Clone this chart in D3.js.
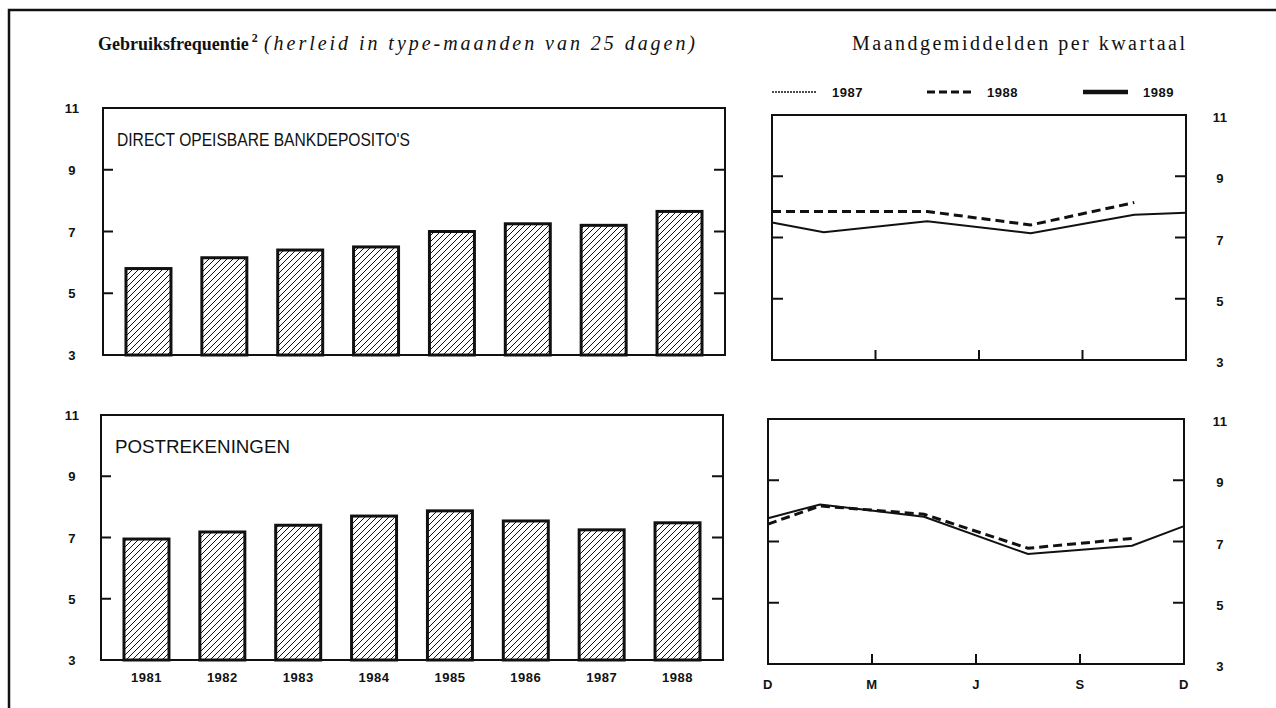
<!DOCTYPE html>
<html>
<head>
<meta charset="utf-8">
<script src="https://cdn.jsdelivr.net/npm/d3@7"></script>
<style>
  body { margin: 0; background: #fff; }
  svg { display: block; }
  .tick-lbl { font-family: "Liberation Sans", Arial, sans-serif; font-weight: bold; font-size: 13px; fill: #111; letter-spacing: 0.5px; }
  .panel-lbl { font-family: "Liberation Sans", Arial, sans-serif; font-size: 18px; fill: #111; }
  .serif { font-family: "Liberation Serif", "DejaVu Serif", serif; font-size: 20px; fill: #111; }
</style>
</head>
<body>
<div id="chart"></div>
<script>
// values
const years = ["1981", "1982", "1983", "1984", "1985", "1986", "1987", "1988"];
const depositoBars = [5.8, 6.15, 6.4, 6.5, 7.0, 7.25, 7.2, 7.65];
const postBars = [6.95, 7.18, 7.4, 7.7, 7.87, 7.54, 7.25, 7.48];

const yTicks = [3, 5, 7, 9, 11];
const quarterPos = [0, 0.5, 1.5, 2.5, 3.5, 4];   // D, mid-quarters, D
const monthTicks = [0, 1, 2, 3, 4];
const monthLabels = ["D", "M", "J", "S", "D"];

const deposito1987 = [7.49, 7.17, 7.53, 7.14, 7.74, 7.81];
const deposito1988 = [7.85, 7.85, 7.85, 7.41, 8.14];
const post1987 = [7.76, 8.21, 7.81, 6.59, 6.86, 7.5];
const post1988 = [7.57, 8.16, 7.89, 6.78, 7.1];

const legendYears = ["1987", "1988", "1989"];

const W = 1276, H = 708;
const svg = d3.select("#chart").append("svg").attr("width", W).attr("height", H);

// hatch pattern
const defs = svg.append("defs");
defs.append("pattern")
  .attr("id", "hatch").attr("patternUnits", "userSpaceOnUse")
  .attr("width", 6).attr("height", 6)
  .append("path")
  .attr("d", "M-1,1 L1,-1 M0,6 L6,0 M5,7 L7,5")
  .attr("stroke", "#111").attr("stroke-width", 1);

// outer frame (top + left only)
svg.append("path")
  .attr("d", `M9,${H} L9,10 L${W},10`)
  .attr("fill", "none").attr("stroke", "#111").attr("stroke-width", 2.5);

// titles
const t1 = svg.append("text").attr("class", "serif").attr("x", 98).attr("y", 50);
t1.append("tspan").style("font-weight", "bold").style("font-size", "18px").text("Gebruiksfrequentie");
t1.append("tspan").attr("dx", 3).attr("dy", -8).style("font-size", "12px").style("font-weight", "bold").text("2");
svg.append("text").attr("class", "serif").attr("x", 264).attr("y", 50)
  .attr("textLength", 431).attr("lengthAdjust", "spacing")
  .style("font-style", "italic")
  .text("(herleid in type-maanden van 25 dagen)");
svg.append("text").attr("class", "serif").attr("x", 852).attr("y", 50)
  .attr("textLength", 333).attr("lengthAdjust", "spacing")
  .text("Maandgemiddelden per kwartaal");

// legend
const legendX = [772, 927, 1083];
const legendStyles = [
  { w: 1.5, dash: "2,1" },
  { w: 3, dash: "8,4" },
  { w: 4.5, dash: null }
];
legendYears.forEach((yr, i) => {
  svg.append("line")
    .attr("x1", legendX[i]).attr("x2", legendX[i] + 45)
    .attr("y1", 92).attr("y2", 92)
    .attr("stroke", "#111").attr("stroke-width", legendStyles[i].w)
    .attr("stroke-dasharray", legendStyles[i].dash);
  svg.append("text").attr("class", "tick-lbl")
    .attr("x", legendX[i] + 60).attr("y", 97).text(yr);
});

function barPanel(opts) {
  const x = d3.scaleBand().domain(years).range([opts.x0, opts.x1])
    .paddingInner(0.407).paddingOuter(0.303);
  const y = d3.scaleLinear().domain([3, 11]).range([opts.y1, opts.y0]);
  const g = svg.append("g");

  g.selectAll("rect.bar").data(opts.values).join("rect")
    .attr("class", "bar")
    .attr("x", (d, i) => x(years[i]))
    .attr("y", d => y(d))
    .attr("width", x.bandwidth())
    .attr("height", d => y(3) - y(d))
    .attr("fill", "url(#hatch)")
    .attr("stroke", "#111").attr("stroke-width", 3);

  g.append("rect")
    .attr("x", opts.x0).attr("y", y(11))
    .attr("width", opts.x1 - opts.x0).attr("height", y(3) - y(11))
    .attr("fill", "none").attr("stroke", "#111").attr("stroke-width", 2);

  const inner = yTicks.filter(t => t > 3 && t < 11);
  g.selectAll("line.tl").data(inner).join("line")
    .attr("x1", opts.x0).attr("x2", opts.x0 + 10)
    .attr("y1", d => y(d)).attr("y2", d => y(d))
    .attr("stroke", "#111").attr("stroke-width", 2);
  g.selectAll("line.tr").data(inner).join("line")
    .attr("x1", opts.x1 - 11).attr("x2", opts.x1)
    .attr("y1", d => y(d)).attr("y2", d => y(d))
    .attr("stroke", "#111").attr("stroke-width", 2);

  g.selectAll("text.yl").data(yTicks).join("text")
    .attr("class", "tick-lbl").attr("text-anchor", "middle")
    .attr("x", 72).attr("y", d => y(d) + 5)
    .text(d => d);

  g.append("text").attr("class", "panel-lbl")
    .attr("x", opts.x0 + 14).attr("y", y(11) + 38)
    .attr("textLength", opts.labelLen).attr("lengthAdjust", "spacingAndGlyphs")
    .text(opts.label);

  if (opts.showYears) {
    g.selectAll("text.xl").data(years).join("text")
      .attr("class", "tick-lbl").attr("text-anchor", "middle")
      .attr("x", d => x(d) + x.bandwidth() / 2).attr("y", 682)
      .text(d => d);
  }
}

function linePanel(opts) {
  const x = d3.scaleLinear().domain([0, 4]).range([opts.x0, opts.x1]);
  const y = d3.scaleLinear().domain([3, 11]).range([opts.y1, opts.y0]);
  const g = svg.append("g");

  g.append("rect")
    .attr("x", opts.x0).attr("y", y(11))
    .attr("width", opts.x1 - opts.x0).attr("height", y(3) - y(11))
    .attr("fill", "none").attr("stroke", "#111").attr("stroke-width", 2);

  const inner = yTicks.filter(t => t > 3 && t < 11);
  g.selectAll("line.tl").data(inner).join("line")
    .attr("x1", opts.x0).attr("x2", opts.x0 + 11)
    .attr("y1", d => y(d)).attr("y2", d => y(d))
    .attr("stroke", "#111").attr("stroke-width", 2);
  g.selectAll("line.tr").data(inner).join("line")
    .attr("x1", opts.x1 - 11).attr("x2", opts.x1)
    .attr("y1", d => y(d)).attr("y2", d => y(d))
    .attr("stroke", "#111").attr("stroke-width", 2);
  g.selectAll("line.tb").data(monthTicks.slice(1, 4)).join("line")
    .attr("x1", d => x(d)).attr("x2", d => x(d))
    .attr("y1", y(3)).attr("y2", y(3) - 10)
    .attr("stroke", "#111").attr("stroke-width", 2);

  g.selectAll("text.yl").data(yTicks).join("text")
    .attr("class", "tick-lbl").attr("text-anchor", "middle")
    .attr("x", 1220).attr("y", d => y(d) + 7)
    .text(d => d);

  const line = d3.line().x(d => x(d[0])).y(d => y(d[1]));
  g.append("path")
    .attr("d", line(opts.s1987.map((v, i) => [quarterPos[i], v])))
    .attr("fill", "none").attr("stroke", "#111").attr("stroke-width", 2);
  g.append("path")
    .attr("d", line(opts.s1988.map((v, i) => [quarterPos[i], v])))
    .attr("fill", "none").attr("stroke", "#111").attr("stroke-width", 3)
    .attr("stroke-dasharray", "9,5");

  if (opts.showMonths) {
    g.selectAll("text.xl").data(monthTicks).join("text")
      .attr("class", "tick-lbl").attr("text-anchor", "middle")
      .attr("x", d => x(d)).attr("y", 689)
      .text((d, i) => monthLabels[i]);
  }
}

barPanel({ x0: 103, x1: 725, y0: 108, y1: 355, values: depositoBars,
  label: "DIRECT OPEISBARE BANKDEPOSITO'S", labelLen: 293, showYears: false });
barPanel({ x0: 101, x1: 723, y0: 415, y1: 660, values: postBars,
  label: "POSTREKENINGEN", labelLen: 175, showYears: true });

linePanel({ x0: 772, x1: 1186, y0: 115, y1: 360, s1987: deposito1987, s1988: deposito1988, showMonths: false });
linePanel({ x0: 768, x1: 1184, y0: 419, y1: 664, s1987: post1987, s1988: post1988, showMonths: true });
</script>
</body>
</html>
